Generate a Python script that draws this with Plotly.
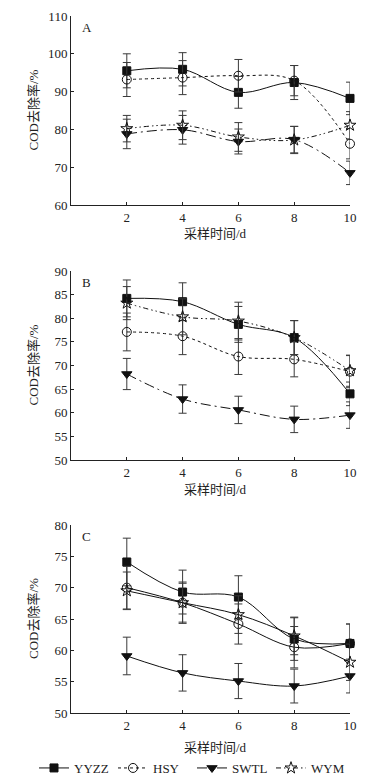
import plotly.graph_objects as go

days = [2, 4, 6, 8, 10]
series_names = ["YYZZ", "HSY", "SWTL", "WYM"]
panel_labels = ["A", "B", "C"]

# Panel A
yyzz_a = [95.5, 95.9, 89.8, 92.4, 88.2]
yyzz_a_err = [4.5, 4.4, 4.2, 4.5, 4.3]
hsy_a = [93.2, 93.7, 94.2, 92.9, 76.2]
hsy_a_err = [4.5, 4.5, 4.3, 4.0, 4.0]
swtl_a = [78.8, 79.9, 76.8, 77.3, 68.5]
swtl_a_err = [3.9, 3.8, 3.3, 3.5, 3.1]
wym_a = [80.2, 81.1, 78.0, 77.2, 81.1]
wym_a_err = [3.5, 3.8, 3.8, 3.6, 3.6]

# Panel B
yyzz_b = [84.2, 83.5, 78.7, 75.9, 64.0]
yyzz_b_err = [3.9, 4.0, 3.8, 3.6, 2.5]
hsy_b = [77.1, 76.2, 71.9, 71.3, 68.7]
hsy_b_err = [4.0, 3.9, 3.8, 3.7, 3.4]
swtl_b = [68.2, 62.9, 60.6, 58.6, 59.5]
swtl_b_err = [3.3, 3.0, 2.9, 2.8, 2.8]
wym_b = [83.2, 80.3, 79.4, 75.9, 68.9]
wym_b_err = [3.5, 3.8, 4.0, 3.6, 3.3]

# Panel C
yyzz_c = [74.1, 69.3, 68.5, 61.8, 61.1]
yyzz_c_err = [3.8, 3.5, 3.4, 3.4, 3.1]
hsy_c = [70.0, 67.6, 64.2, 60.5, 61.1]
hsy_c_err = [3.4, 3.3, 3.2, 3.3, 3.1]
swtl_c = [59.1, 56.4, 55.1, 54.3, 55.9]
swtl_c_err = [3.0, 2.9, 2.8, 2.7, 2.7]
wym_c = [69.5, 67.6, 65.7, 62.3, 58.1]
wym_c_err = [3.0, 3.1, 3.0, 3.0, 2.9]

y_ranges = [[60, 110], [50, 90], [50, 80]]
y_dticks = [10, 5, 5]
y_title = "COD去除率/%"
x_title = "采样时间/d"

panels = [
    [(yyzz_a, yyzz_a_err), (hsy_a, hsy_a_err), (swtl_a, swtl_a_err), (wym_a, wym_a_err)],
    [(yyzz_b, yyzz_b_err), (hsy_b, hsy_b_err), (swtl_b, swtl_b_err), (wym_b, wym_b_err)],
    [(yyzz_c, yyzz_c_err), (hsy_c, hsy_c_err), (swtl_c, swtl_c_err), (wym_c, wym_c_err)],
]

OFF = 8  # page body margin
W, H = 380 - OFF, 782 - OFF
ML, MR, MT, MB = 5, 5, 5, 5
PW, PH = W - ML - MR, H - MT - MB
plot_px = [(16, 205), (271, 460), (525, 713)]
xtitle_px = [233, 489, 747]


def py(px):  # reference pixel y -> plot-area fraction
    return 1 - (px - OFF - MT) / PH


def pxf(px):  # reference pixel x -> plot-area fraction
    return (px - OFF - ML) / PW


markers = ["square", "circle-open", "triangle-down", "star-open"]
msizes = [8, 9, 9, 9]
dashes_ab = ["solid", "dot", "10px,4px,2px,4px", "5px,3px,1.5px,3px,1.5px,3px"]
dashes_c = ["solid", "solid", "solid", "solid"]

FONT = "Liberation Serif, Times New Roman, Noto Sans CJK SC, serif"
FS = 13

fig = go.Figure()
layout = dict(
    width=W, height=H,
    margin=dict(l=ML, r=MR, t=MT, b=MB, autoexpand=False),
    paper_bgcolor="white", plot_bgcolor="white",
    font=dict(family=FONT, size=FS, color="#222"),
    showlegend=True,
    legend=dict(orientation="h", x=pxf(192), xanchor="center", y=py(768), yanchor="middle",
                font=dict(size=FS, family=FONT, color="#222"), itemwidth=30,
                entrywidth=34, entrywidthmode="pixels",
                tracegroupgap=0, bgcolor="rgba(0,0,0,0)"),
)
annotations = []
for p in range(3):
    top, bot = plot_px[p]
    xa = "xaxis" if p == 0 else f"xaxis{p+1}"
    ya = "yaxis" if p == 0 else f"yaxis{p+1}"
    xref = "x" if p == 0 else f"x{p+1}"
    yref = "y" if p == 0 else f"y{p+1}"
    dashes = dashes_c if p == 2 else dashes_ab
    for s in range(4):
        vals, errs = panels[p][s]
        fig.add_trace(go.Scatter(
            x=days, y=vals, xaxis=xref, yaxis=yref,
            mode="lines+markers", name=series_names[s],
            showlegend=(p == 0),
            cliponaxis=False,
            line=dict(color="#111", width=1, dash=dashes[s], shape="spline", smoothing=1.0),
            marker=dict(symbol=markers[s], size=msizes[s], color="#111",
                        line=dict(color="#111", width=1)),
            error_y=dict(type="data", array=errs, visible=True, color="#3a3a3a",
                         thickness=1, width=4),
        ))
    layout[xa] = dict(
        domain=[pxf(71), pxf(350)], anchor=yref, range=[0, 10], tickvals=days,
        ticks="inside", ticklen=3, tickcolor="#222",
        showline=True, linecolor="#222", linewidth=1, showgrid=False, zeroline=False,
        tickfont=dict(size=FS, family=FONT), automargin=False,
    )
    layout[ya] = dict(
        domain=[py(bot), py(top)], anchor=xref, range=y_ranges[p], dtick=y_dticks[p],
        ticks="inside", ticklen=3, tickcolor="#222",
        showline=True, linecolor="#222", linewidth=1, showgrid=False, zeroline=False,
        tickfont=dict(size=FS, family=FONT), automargin=False,
    )
    annotations.append(dict(
        text=panel_labels[p], xref="paper", yref="paper",
        x=pxf(80), y=py(top + 11), xanchor="left", yanchor="middle",
        showarrow=False, font=dict(size=FS, family=FONT, color="#222"),
    ))
    annotations.append(dict(
        text=y_title, xref="paper", yref="paper", textangle=-90,
        x=pxf(33), y=py((top + bot) / 2), xanchor="center", yanchor="middle",
        showarrow=False, font=dict(size=FS, family=FONT, color="#222"),
    ))
    annotations.append(dict(
        text=x_title, xref="paper", yref="paper",
        x=pxf(215), y=py(xtitle_px[p]), xanchor="center", yanchor="middle",
        showarrow=False, font=dict(size=FS, family=FONT, color="#222"),
    ))
layout["annotations"] = annotations
fig.update_layout(**layout)
fig.write_html("out.html")
